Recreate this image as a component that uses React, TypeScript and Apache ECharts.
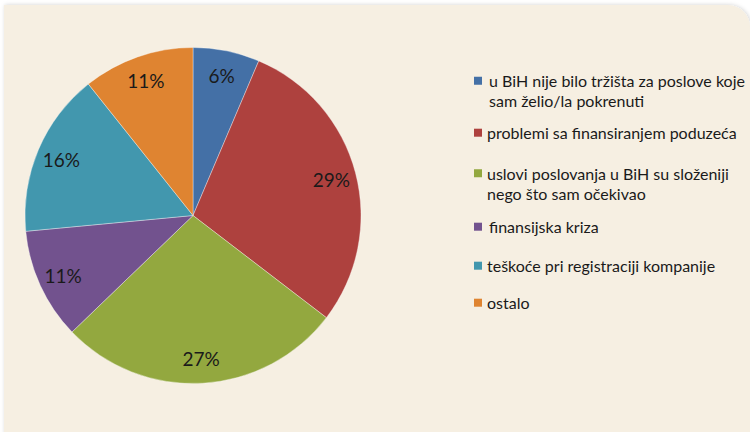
import React, { useEffect, useRef } from "react";
import * as echarts from "echarts";

const categories = [
  "u BiH nije bilo tržišta za poslove koje sam želio/la pokrenuti",
  "problemi sa finansiranjem poduzeća",
  "uslovi poslovanja u BiH su složeniji nego što sam očekivao",
  "finansijska kriza",
  "teškoće pri registraciji kompanije",
  "ostalo",
];
const legendLabels = [
  "u BiH nije bilo tržišta za poslove koje\nsam želio/la pokrenuti",
  "problemi sa finansiranjem poduzeća",
  "uslovi poslovanja u BiH su složeniji\nnego što sam očekivao",
  "finansijska kriza",
  "teškoće pri registraciji kompanije",
  "ostalo",
];
// slice shares (labels show them rounded)
const values = [6.4, 29.0, 27.4, 10.7, 15.8, 10.7];
const colors = ["#4470a6", "#ae413e", "#93a83f", "#72528e", "#4297ae", "#df8431"];

// legend layout (first-line centre y, extra left indent)
const legendCenters = [80.7, 132.7, 173.3, 226.7, 265.7, 302.7];
const legendIndent = [2, 0, 0, 2, 0, 0];

export default function App() {
  const ref = useRef<HTMLDivElement>(null);
  useEffect(() => {
    if (!ref.current) return;
    const chart = echarts.init(ref.current, undefined, { renderer: "svg" });
    const font = "Lato, 'Open Sans', sans-serif";
    const lh = 20;
    const legends = categories.map((name, i) => {
      const twoLine = legendLabels[i].includes("\n");
      return {
        left: 474,
        top: legendCenters[i] - lh / 2,
        orient: "vertical",
        padding: 0,
        itemWidth: 8,
        itemHeight: twoLine ? 28 : 8,
        icon: twoLine ? "path://M0,0L8,0L8,8L0,8Z M0,28L0.01,28" : "rect",
        itemStyle: { borderWidth: 0 },
        selectedMode: false,
        data: [name],
        formatter: () => legendLabels[i],
        textStyle: {
          fontFamily: font,
          fontSize: 16,
          color: "#1a1a1a",
          lineHeight: lh,
          padding: [0, 0, 0, legendIndent[i]],
        },
      };
    });
    const data = categories.map((name, i) => ({
      name,
      value: values[i],
      itemStyle: { color: colors[i] },
    }));
    chart.setOption({
      animation: false,
      backgroundColor: "#ffffff",
      graphic: [
        {
          type: "rect",
          z: 0,
          silent: true,
          shape: { x: 4, y: 5, width: 746, height: 440, r: [0, 22, 0, 0] },
          style: {
            fill: "#f6efe2",
            shadowBlur: 4,
            shadowOffsetX: 1,
            shadowColor: "rgba(0,0,0,0.18)",
          },
        },
      ],
      legend: legends,
      series: [
        {
          type: "pie",
          center: [193, 215.5],
          radius: [0, 168],
          startAngle: 90,
          clockwise: true,
          label: { show: false },
          labelLine: { show: false },
          itemStyle: { borderColor: "rgba(255,255,255,0.45)", borderWidth: 0.8 },
          emphasis: { disabled: true },
          silent: true,
          data,
        },
        {
          type: "pie",
          center: [193, 215.5],
          radius: [112, 168],
          startAngle: 90,
          clockwise: true,
          silent: true,
          legendHoverLink: false,
          emphasis: { disabled: true },
          itemStyle: { color: "rgba(0,0,0,0)", borderWidth: 0 },
          label: {
            show: true,
            position: "inside",
            formatter: (p: any) => Math.round(p.value) + "%",
            fontFamily: font,
            fontSize: 19,
            color: "#1a1a1a",
          },
          labelLine: { show: false },
          data: categories.map((name, i) => ({
            name: name + " ",
            value: values[i],
          })),
        },
      ],
    });
    return () => chart.dispose();
  }, []);
  return (
    <div
      ref={ref}
      style={{ position: "absolute", left: 0, top: 0, width: 750, height: 432 }}
    />
  );
}
